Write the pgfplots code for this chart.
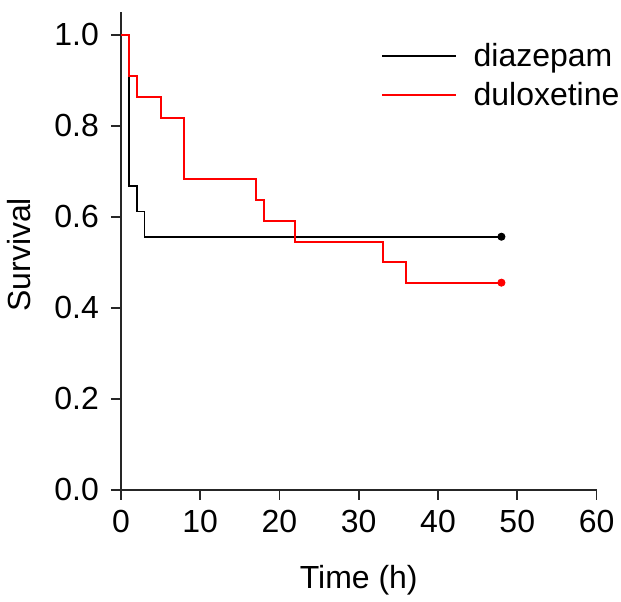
\documentclass[border=0pt]{standalone}
\usepackage{pgfplots}
\pgfplotsset{compat=1.18}
\usepackage{fontspec}
\setmainfont{Liberation Sans}
\begin{document}
\begin{tikzpicture}
\begin{axis}[
  scale only axis,
  width=238pt, height=239pt,
  xmin=0, xmax=60, ymin=0, ymax=1.05,
  axis x line*=bottom, axis y line*=left,
  axis line style={line width=0.9pt, black!85},
  every outer x axis line/.append style={-},
  every outer y axis line/.append style={-},
  tick align=outside, tick pos=left,
  major tick length=5pt,
  tick style={line width=0.9pt, black!85},
  xtick={0,10,...,60},
  ytick={0,0.2,0.4,0.6,0.8,1.0},
  /pgf/number format/assume math mode=true,
  yticklabel style={/pgf/number format/fixed, /pgf/number format/fixed zerofill, /pgf/number format/precision=1, xshift=-2.5pt},
  ticklabel style={font=\fontsize{16}{19}\selectfont},
  xticklabel style={yshift=-1.5pt},
  xlabel={Time (h)}, ylabel={Survival},
  label style={font=\fontsize{16}{19}\selectfont},
  xlabel style={at={(axis description cs:0.5,-0.19)}, anchor=center},
  ylabel style={at={(axis description cs:-0.214,0.4916)}, anchor=center, rotate=0},
  clip=false,
  legend style={at={(rel axis cs:0.534,0.867)}, anchor=west, draw=none, fill=none, overlay,
    font=\fontsize{16}{19}\selectfont, row sep=2.5pt,
    /tikz/every odd column/.append style={column sep=6.5pt}},
  legend cell align=left,
  legend image code/.code={\draw[#1] (0pt,0pt) -- (36.7pt,0pt);},
]
\addplot[const plot, black, line width=0.8pt] coordinates {
  (0,1) (1,0.667) (2,0.611) (3,0.556) (48,0.556)};
\addlegendentry{diazepam}
\addplot[const plot, red, line width=1pt] coordinates {
  (0,1) (1,0.909) (2,0.864) (5,0.818) (8,0.682) (17,0.636) (18,0.591)
  (22,0.545) (33,0.5) (36,0.455) (48,0.455)};
\addlegendentry{duloxetine}
\addplot[only marks, mark=*, mark size=1.8pt, black, forget plot] coordinates {(48,0.556)};
\addplot[only marks, mark=*, mark size=1.8pt, red, forget plot] coordinates {(48,0.455)};
\path (rel axis cs:-0.2542,-0.2197) rectangle (rel axis cs:1.0504,1.0251);
\end{axis}
\end{tikzpicture}
\end{document}
